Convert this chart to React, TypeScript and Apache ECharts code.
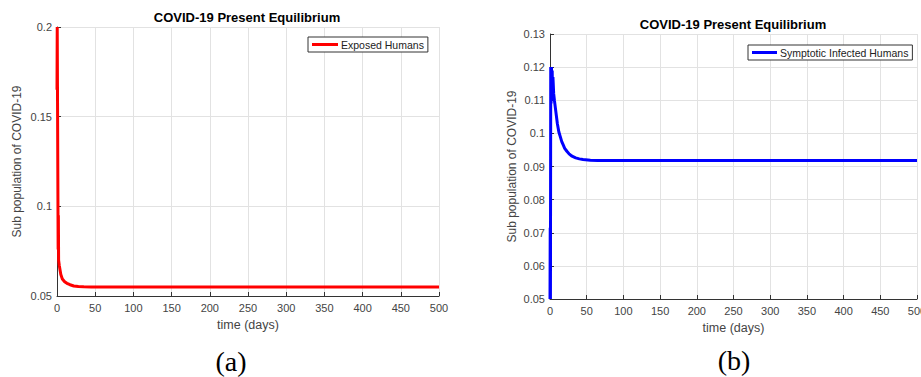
import React, { useEffect, useRef } from "react";
import * as echarts from "echarts";

const titleText = "COVID-19 Present Equilibrium";
const xName = "time (days)";
const yName = "Sub population of COVID-19";

const exposedName = "Exposed Humans";
const exposedT = [0, 0.3, 1, 1.5, 1.8, 2.1, 3, 5, 7, 10, 13, 17, 22, 28, 35, 45, 100, 200, 300, 400, 500];
const exposedV = [0.165, 0.2, 0.2, 0.076, 0.095, 0.07, 0.067, 0.062, 0.0595, 0.058, 0.0571, 0.0563, 0.0556, 0.0553, 0.0551, 0.055, 0.055, 0.055, 0.055, 0.055, 0.055];

const infectedName = "Symptotic Infected Humans";
const infectedT = [0, 0.3, 0.6, 1, 1.5, 2, 2.5, 3, 3.5, 4, 5, 6, 8, 10, 12, 14, 16, 18, 20, 23, 26, 30, 35, 40, 45, 55, 65, 100, 200, 300, 400, 500];
const infectedV = [0.05, 0.0715, 0.05, 0.12, 0.109, 0.12, 0.11, 0.119, 0.111, 0.117, 0.112, 0.11, 0.1065, 0.103, 0.1005, 0.099, 0.0975, 0.0965, 0.0955, 0.0946, 0.0938, 0.0931, 0.0926, 0.0923, 0.0921, 0.0919, 0.0918, 0.0918, 0.0918, 0.0918, 0.0918, 0.0918];

const xMin = 0, xMax = 500, xStep = 50;
const yA = { min: 0.05, max: 0.2, step: 0.05 };
const yB = { min: 0.05, max: 0.13, step: 0.01 };

const FONT = "Liberation Sans";
const AXIS_COLOR = "#333";
const TEXT_COLOR = "#444";
const GRID_COLOR = "#e2e2e2";

function fmt(v: number) {
  return String(parseFloat(v.toFixed(2)));
}

export default function App() {
  const ref = useRef<HTMLDivElement>(null);
  useEffect(() => {
    if (!ref.current) return;
    const chart = echarts.init(ref.current, undefined, { renderer: "svg" });
    const xAxisBase = (gridIndex: number) => ({
      type: "value",
      gridIndex,
      min: xMin,
      max: xMax,
      interval: xStep,
      name: xName,
      nameLocation: "middle",
      nameGap: 22,
      nameTextStyle: { fontFamily: FONT, fontSize: 12.5, color: TEXT_COLOR },
      axisLine: { show: true, lineStyle: { color: AXIS_COLOR, width: 1 } },
      axisTick: { show: true, inside: true, length: 4, lineStyle: { color: AXIS_COLOR } },
      axisLabel: { fontFamily: FONT, fontSize: 11, color: TEXT_COLOR, margin: 6, formatter: (v: number) => String(v) },
      splitLine: { show: true, lineStyle: { color: GRID_COLOR, width: 1 } },
    });
    const yAxisBase = (gridIndex: number, y: { min: number; max: number; step: number }, gap: number) => ({
      type: "value",
      gridIndex,
      min: y.min,
      max: y.max,
      interval: y.step,
      name: yName,
      nameLocation: "middle",
      nameGap: gap,
      nameTextStyle: { fontFamily: FONT, fontSize: 12, color: TEXT_COLOR },
      axisLine: { show: true, lineStyle: { color: AXIS_COLOR, width: 1 } },
      axisTick: { show: true, inside: true, length: 4, lineStyle: { color: AXIS_COLOR } },
      axisLabel: { fontFamily: FONT, fontSize: 11, color: TEXT_COLOR, margin: 5, formatter: fmt },
      splitLine: { show: true, lineStyle: { color: GRID_COLOR, width: 1 } },
    });
    chart.setOption({
      animation: false,
      backgroundColor: "#ffffff",
      grid: [
        { left: 57, top: 27, width: 382, height: 269, containLabel: false, outerBoundsMode: "none" },
        { left: 550, top: 34, width: 367, height: 265, containLabel: false, outerBoundsMode: "none" },
      ],
      xAxis: [xAxisBase(0), xAxisBase(1)],
      yAxis: [yAxisBase(0, yA, 34), yAxisBase(1, yB, 32)],
      legend: [
        {
          data: [exposedName],
          left: 308,
          top: 37,
          orient: "horizontal",
          icon: "rect",
          itemWidth: 26,
          itemHeight: 3,
          itemGap: 3,
          padding: [2, 4, 2, 4],
          borderColor: "#333",
          borderWidth: 1,
          backgroundColor: "#fff",
          textStyle: { fontFamily: FONT, fontSize: 10.5, color: "#222", padding: [0, 0, 0, -2] },
        },
        {
          data: [infectedName],
          left: 748,
          top: 45,
          orient: "horizontal",
          icon: "rect",
          itemWidth: 25,
          itemHeight: 3,
          itemGap: 3,
          padding: [2, 4, 2, 4],
          borderColor: "#333",
          borderWidth: 1,
          backgroundColor: "#fff",
          textStyle: { fontFamily: FONT, fontSize: 10.5, color: "#222", padding: [0, 0, 0, -2] },
        },
      ],
      series: [
        {
          name: exposedName,
          type: "line",
          xAxisIndex: 0,
          yAxisIndex: 0,
          showSymbol: false,
          clip: true,
          color: "#ff0000",
          lineStyle: { width: 3, color: "#ff0000" },
          data: exposedT.map((t, i) => [t, exposedV[i]]),
        },
        {
          name: infectedName,
          type: "line",
          xAxisIndex: 1,
          yAxisIndex: 1,
          showSymbol: false,
          clip: true,
          color: "#0000ff",
          lineStyle: { width: 3, color: "#0000ff" },
          data: infectedT.map((t, i) => [t, infectedV[i]]),
        },
      ],
      graphic: [
        {
          type: "text",
          x: 247,
          y: 17,
          style: { text: titleText, fontFamily: FONT, fontSize: 13, fontWeight: "bold", fill: "#000", textAlign: "center", textVerticalAlign: "middle" },
        },
        {
          type: "text",
          x: 733,
          y: 24,
          style: { text: titleText, fontFamily: FONT, fontSize: 13, fontWeight: "bold", fill: "#000", textAlign: "center", textVerticalAlign: "middle" },
        },
        {
          type: "text",
          x: 231,
          y: 361,
          style: { text: "(a)", fontFamily: "Liberation Serif", fontSize: 28, fill: "#000", textAlign: "center", textVerticalAlign: "middle" },
        },
        {
          type: "text",
          x: 734,
          y: 360,
          style: { text: "(b)", fontFamily: "Liberation Serif", fontSize: 28, fill: "#000", textAlign: "center", textVerticalAlign: "middle" },
        },
      ],
    });
    return () => chart.dispose();
  }, []);
  return (
    <div
      ref={ref}
      style={{ position: "fixed", left: 0, top: 0, width: 921, height: 377, background: "#fff" }}
    />
  );
}
